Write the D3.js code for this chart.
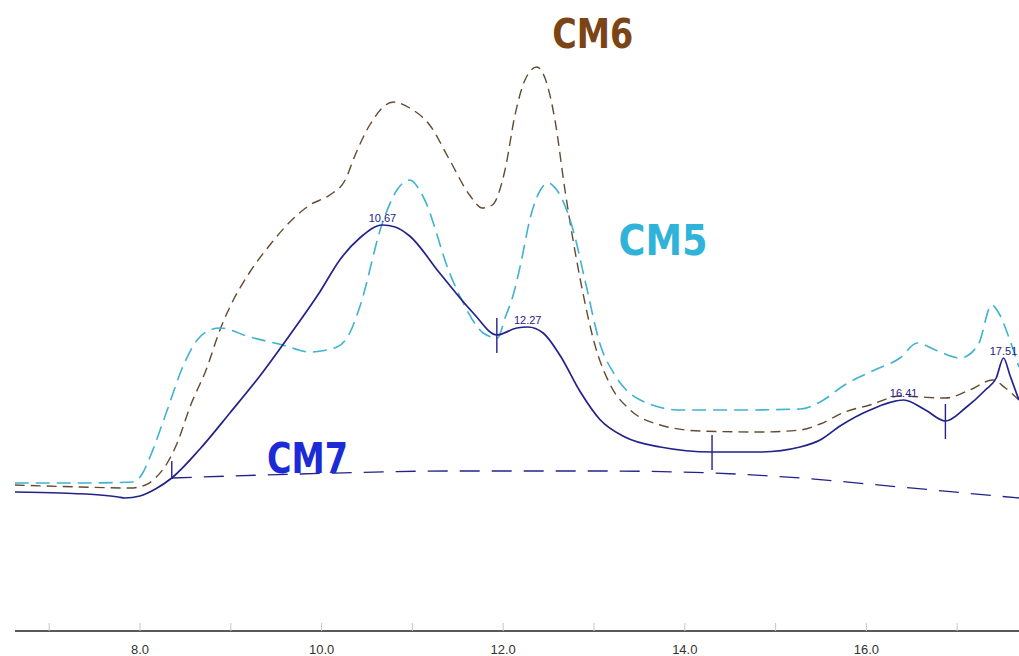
<!DOCTYPE html>
<html>
<head>
<meta charset="utf-8">
<script src="https://cdn.jsdelivr.net/npm/d3@7/dist/d3.min.js"></script>
<style>
  body { margin: 0; background: #fff; }
  svg { display: block; }
</style>
</head>
<body>
<script>
/*eslint-env browser*/
/*global d3 */

// chromatogram overlay, three runs (CM5, CM6, CM7), time in min on x

// CM7 - solid trace (the integrated one)
var times7 = [6.62, 7.12, 7.56, 7.76, 7.83, 8.00, 8.17, 8.35, 8.66, 8.99, 9.32, 9.65, 9.98, 10.20, 10.42,
  10.67, 10.81, 10.97, 11.30, 11.67, 11.93, 12.15, 12.27, 12.44, 12.63, 12.85, 13.07, 13.34, 13.73, 14.30,
  14.83, 15.27, 15.49, 15.71, 16.04, 16.41, 16.65, 16.87, 17.09, 17.31, 17.43, 17.51, 17.58, 17.68];
var cm7 = [138, 137, 135, 133, 132, 134, 141, 152, 181, 217, 254, 295, 338, 370, 392,
  405, 403, 394, 357, 317, 295, 302, 303, 297, 274, 238, 210, 193, 183, 178,
  178, 183, 190, 204, 220, 230, 220, 209, 222, 240, 252, 272, 255, 230];

// CM7 baseline (dashed)
var baseTimes = [8.35, 9.76, 11.41, 13.07, 14.30, 15.27, 16.37, 17.68];
var baseVals = [152, 156, 159, 159, 157, 152, 143, 132];

// CM5 - cyan dashed
var times5 = [6.62, 7.34, 7.92, 8.03, 8.11, 8.30, 8.47, 8.63, 8.77, 8.88, 9.21, 9.57, 9.87, 10.17, 10.31, 10.42,
  10.67, 10.83, 10.97, 11.12, 11.41, 11.56, 11.78, 11.94, 12.02, 12.11, 12.19, 12.30, 12.41, 12.49, 12.59,
  12.77, 12.90, 13.07, 13.23, 13.51, 13.95, 14.61, 15.27, 15.49, 15.76, 16.09, 16.37, 16.56, 16.76, 17.03,
  17.23, 17.38, 17.47, 17.56, 17.68];
var cm5 = [147, 147, 148, 157, 173, 220, 263, 290, 300, 302, 293, 285, 278, 283, 297, 323,
  407, 440, 450, 433, 357, 327, 297, 292, 312, 335, 365, 413, 440, 447, 440,
  400, 350, 285, 255, 230, 220, 220, 221, 228, 245, 260, 272, 287, 280, 272,
  285, 325, 315, 295, 263];

// CM6 - brown dashed
var times6 = [6.62, 7.34, 7.89, 8.06, 8.17, 8.30, 8.41, 8.55, 8.74, 8.88, 8.99, 9.21, 9.43, 9.65, 9.87, 10.09,
  10.26, 10.37, 10.53, 10.79, 10.97, 11.19, 11.41, 11.63, 11.77, 11.88, 12.02, 12.13, 12.24, 12.37, 12.46,
  12.57, 12.68, 12.85, 13.01, 13.18, 13.40, 13.73, 14.17, 14.83, 15.27, 15.49, 15.76, 16.04, 16.37, 16.59,
  16.87, 17.14, 17.39, 17.53, 17.68];
var cm6 = [145, 143, 142, 145, 152, 167, 187, 223, 263, 300, 323, 358, 385, 408, 425, 435,
  450, 475, 505, 528, 522, 505, 470, 435, 422, 425, 460, 515, 550, 563, 552,
  510, 440, 350, 285, 245, 220, 205, 199, 198, 200, 206, 218, 225, 234, 233,
  232, 240, 250, 242, 230];

// peak apex labels on CM7 and integration markers
var peakTimes = [10.67, 12.27, 16.41, 17.51];
var peakLabels = ["10.67", "12.27", "16.41", "17.51"];
var markerTimes = [8.35, 11.93, 14.30, 16.87];

// axis
var tickValues = [7, 8, 9, 10, 11, 12, 13, 14, 15, 16, 17];
var tickLabelValues = [8, 10, 12, 14, 16];
var tickLabels = ["8.0", "10.0", "12.0", "14.0", "16.0"];

var seriesNames = ["CM5", "CM6", "CM7"];

var width = 1019,
    height = 656;

var left = 15, right = 1019, axisY = 631;

var x = d3.scaleLinear().domain([8, 10]).range([140, 321.6]);
var y = d3.scaleLinear().domain([0, 600]).range([630, 30]);

var svg = d3.select("body").append("svg")
    .attr("width", width)
    .attr("height", height)
    .style("background", "#fff");

svg.append("clipPath").attr("id", "plot")
  .append("rect")
    .attr("x", left).attr("y", 0)
    .attr("width", right - left).attr("height", axisY);

var g = svg.append("g").attr("clip-path", "url(#plot)");

function zip(ts, vs) {
  return ts.map(function(t, i) { return [t, vs[i]]; });
}

var line = d3.line()
    .x(function(d) { return x(d[0]); })
    .y(function(d) { return y(d[1]); })
    .curve(d3.curveMonotoneX);

// CM6 brown dashed
g.append("path")
    .attr("d", line(zip(times6, cm6)))
    .attr("fill", "none")
    .attr("stroke", "#634b30")
    .attr("stroke-width", 1.4)
    .attr("stroke-dasharray", "10,6");

// CM5 cyan dashed
g.append("path")
    .attr("d", line(zip(times5, cm5)))
    .attr("fill", "none")
    .attr("stroke", "#3fb3cf")
    .attr("stroke-width", 1.6)
    .attr("stroke-dasharray", "14,7");

// CM7 baseline
g.append("path")
    .attr("d", line(zip(baseTimes, baseVals)))
    .attr("fill", "none")
    .attr("stroke", "#22228a")
    .attr("stroke-width", 1.3)
    .attr("stroke-dasharray", "20,12");

// CM7 solid
g.append("path")
    .attr("d", line(zip(times7, cm7)))
    .attr("fill", "none")
    .attr("stroke", "#22228a")
    .attr("stroke-width", 1.7);

function cm7At(t) {
  var i = d3.leastIndex(times7, function(a, b) { return Math.abs(a - t) - Math.abs(b - t); });
  return cm7[i];
}

// integration markers (little vertical ticks)
markerTimes.forEach(function(t, i) {
  var yy = y(cm7At(t));
  g.append("line")
      .attr("x1", x(t)).attr("x2", x(t))
      .attr("y1", yy - 17).attr("y2", i === 0 ? yy : yy + 18)
      .attr("stroke", "#22228a")
      .attr("stroke-width", 1.4);
});

// apex labels
g.selectAll(".peak")
    .data(peakTimes)
  .enter().append("text")
    .attr("class", "peak")
    .attr("x", function(d) { return x(d); })
    .attr("y", function(d) { return y(cm7At(d)) - 3; })
    .attr("text-anchor", "middle")
    .style("font-family", "Liberation Sans, Arial, sans-serif")
    .style("font-size", "11px")
    .style("fill", "#22228a")
    .text(function(d, i) { return peakLabels[i]; });

// big series names
var nameStyle = [
  { t: 13.27, v: 375, color: "#2fb3d8", size: 42, w: 89 },
  { t: 12.54, v: 582, color: "#7a4414", size: 41, w: 81 },
  { t: 9.40, v: 157, color: "#1c2bd6", size: 42, w: 81 }
];
seriesNames.forEach(function(name, i) {
  svg.append("text")
      .attr("x", x(nameStyle[i].t))
      .attr("y", y(nameStyle[i].v))
      .attr("textLength", nameStyle[i].w)
      .attr("lengthAdjust", "spacingAndGlyphs")
      .style("font-family", "DejaVu Sans Condensed, DejaVu Sans, sans-serif")
      .style("font-weight", "bold")
      .style("font-size", nameStyle[i].size + "px")
      .style("fill", nameStyle[i].color)
      .text(name);
});

// x axis: plain line, small grey ticks above it, labels every 2 min
svg.append("line")
    .attr("x1", left).attr("x2", right)
    .attr("y1", axisY).attr("y2", axisY)
    .attr("stroke", "#222")
    .attr("stroke-width", 1.6);

svg.selectAll(".tick")
    .data(tickValues)
  .enter().append("line")
    .attr("class", "tick")
    .attr("x1", function(d) { return x(d); })
    .attr("x2", function(d) { return x(d); })
    .attr("y1", axisY - 8).attr("y2", axisY)
    .attr("stroke", "#c8c8c8")
    .attr("stroke-width", 1);

svg.selectAll(".tlabel")
    .data(tickLabelValues)
  .enter().append("text")
    .attr("class", "tlabel")
    .attr("x", function(d) { return x(d); })
    .attr("y", 654)
    .attr("text-anchor", "middle")
    .style("font-family", "Liberation Sans Narrow, Liberation Sans, Arial, sans-serif")
    .style("font-size", "13px")
    .style("fill", "#333")
    .text(function(d, i) { return tickLabels[i]; });
</script>
</body>
</html>
